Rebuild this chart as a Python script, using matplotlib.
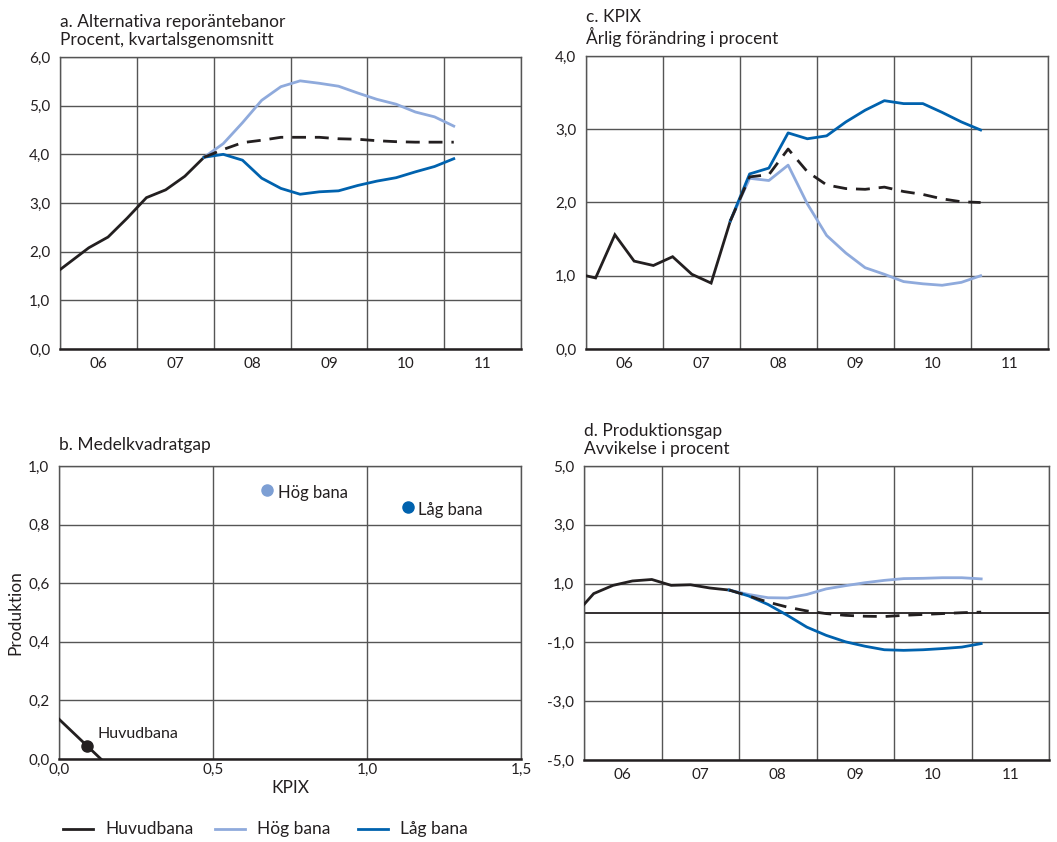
import matplotlib
matplotlib.use("Agg")
import matplotlib.pyplot as plt
from matplotlib.lines import Line2D
import numpy as np

plt.rcParams['font.family'] = ['Lato', 'DejaVu Sans']
TXT = '#231F20'
plt.rcParams['text.color'] = TXT
plt.rcParams['axes.labelcolor'] = TXT
plt.rcParams['xtick.color'] = TXT
plt.rcParams['ytick.color'] = TXT

# ---------------- data ----------------
hist_quarters = ["2005Q4", "2006Q1", "2006Q2", "2006Q3", "2006Q4",
                 "2007Q1", "2007Q2", "2007Q3", "2007Q4"]
fc_quarters = ["2007Q4", "2008Q1", "2008Q2", "2008Q3", "2008Q4",
               "2009Q1", "2009Q2", "2009Q3", "2009Q4",
               "2010Q1", "2010Q2", "2010Q3", "2010Q4", "2011Q1"]

# a. Reporänta
a_hist = [1.48, 1.78, 2.08, 2.30, 2.69, 3.11, 3.27, 3.55, 3.94]
a_huvud = [3.94, 4.10, 4.24, 4.29, 4.35, 4.35, 4.35, 4.32, 4.31, 4.28, 4.26, 4.25, 4.25, 4.25]
a_hog = [3.94, 4.22, 4.65, 5.11, 5.39, 5.51, 5.46, 5.40, 5.26, 5.13, 5.03, 4.87, 4.77, 4.58]
a_lag = [3.94, 4.00, 3.88, 3.51, 3.30, 3.18, 3.23, 3.25, 3.36, 3.45, 3.52, 3.64, 3.75, 3.91]

# c. KPIX
c_hist = [1.03, 0.97, 1.56, 1.20, 1.14, 1.26, 1.02, 0.90, 1.75]
c_huvud = [1.75, 2.35, 2.38, 2.73, 2.42, 2.24, 2.19, 2.18, 2.21, 2.15, 2.11, 2.05, 2.01, 2.00]
c_hog = [1.75, 2.33, 2.30, 2.51, 1.98, 1.55, 1.31, 1.11, 1.02, 0.92, 0.89, 0.87, 0.91, 1.00]
c_lag = [1.75, 2.39, 2.47, 2.95, 2.87, 2.91, 3.10, 3.26, 3.39, 3.35, 3.35, 3.23, 3.10, 2.99]

# d. Produktionsgap
d_hist = [-0.08, 0.66, 0.94, 1.09, 1.14, 0.94, 0.96, 0.85, 0.78]
d_huvud = [0.78, 0.58, 0.37, 0.20, 0.07, -0.02, -0.08, -0.11, -0.12, -0.08, -0.05, -0.02, 0.01, 0.03]
d_hog = [0.78, 0.63, 0.52, 0.51, 0.63, 0.82, 0.93, 1.03, 1.11, 1.17, 1.18, 1.20, 1.20, 1.16]
d_lag = [0.78, 0.58, 0.29, -0.08, -0.48, -0.76, -0.98, -1.13, -1.25, -1.27, -1.25, -1.21, -1.16, -1.04]

# b. Medelkvadratgap (KPIX, Produktion)
b_huvud = (0.092, 0.044)
b_hog = (0.676, 0.917)
b_lag = (1.134, 0.859)

years = [2006, 2007, 2008, 2009, 2010, 2011]
year_labels = ["06", "07", "08", "09", "10", "11"]
a_yticks = [0, 1, 2, 3, 4, 5, 6]
a_ylabels = ["0,0", "1,0", "2,0", "3,0", "4,0", "5,0", "6,0"]
c_yticks = [0, 1, 2, 3, 4]
c_ylabels = ["0,0", "1,0", "2,0", "3,0", "4,0"]
d_yticks = [-5, -3, -1, 1, 3, 5]
d_ylabels = ["-5,0", "-3,0", "-1,0", "1,0", "3,0", "5,0"]
b_xticks = [0, 0.5, 1.0, 1.5]
b_xlabels = ["0,0", "0,5", "1,0", "1,5"]
b_yticks = [0, 0.2, 0.4, 0.6, 0.8, 1.0]
b_ylabels = ["0,0", "0,2", "0,4", "0,6", "0,8", "1,0"]

series_names = ["Huvudbana", "Hög bana", "Låg bana"]

BLACK = '#231F20'
LIGHT = '#8FAADC'
DARK = '#0062AE'
GRID = '#555555'
LW = 2.0


def qx(q):
    y, n = q.split("Q")
    return int(y) + (int(n) - 0.5) / 4.0


xh = np.array([qx(q) for q in hist_quarters])
xf = np.array([qx(q) for q in fc_quarters])

W, H = 1057, 842
fig = plt.figure(figsize=(W / 100, H / 100), dpi=100)


def box(l, t, r, b):
    return [l / W, 1 - b / H, (r - l) / W, (b - t) / H]


def style(ax):
    ax.tick_params(which='both', length=0, labelsize=11)
    ax.tick_params(axis='y', pad=7)
    ax.tick_params(axis='x', which='both', pad=6)
    for s in ['left', 'top', 'right']:
        ax.spines[s].set_color(GRID)
        ax.spines[s].set_linewidth(1.0)
    ax.spines['bottom'].set_color(BLACK)
    ax.spines['bottom'].set_linewidth(1.8)
    ax.grid(True, which='major', color=GRID, linewidth=1.0)
    ax.set_axisbelow(True)


def time_panel(ax, xlim, yticks, ylabels, hist, huvud, hog, lag, title):
    ax.set_xlim(*xlim)
    ax.set_ylim(yticks[0], yticks[-1])
    ax.set_xticks(years + [years[-1] + 1])
    ax.set_xticklabels([])
    ax.set_xticks([y + 0.5 for y in years], minor=True)
    ax.set_xticklabels(year_labels, minor=True)
    ax.set_yticks(yticks)
    ax.set_yticklabels(ylabels)
    style(ax)
    ax.plot(xh, hist, color=BLACK, lw=LW, solid_joinstyle='miter', zorder=3)
    ax.plot(xf, hog, color=LIGHT, lw=LW, zorder=3)
    ax.plot(xf, lag, color=DARK, lw=LW, zorder=4)
    ax.plot(xf, huvud, color=BLACK, lw=LW, dashes=(5, 3.2), zorder=5)
    ax.text(0, 1.03, title, transform=ax.transAxes, ha='left', va='bottom',
            fontsize=12.5, linespacing=1.15)


ax_a = fig.add_axes(box(60, 57, 521, 349))
time_panel(ax_a, (2006, 2012), a_yticks, a_ylabels, a_hist, a_huvud, a_hog, a_lag,
           "a. Alternativa reporäntebanor\nProcent, kvartalsgenomsnitt")

ax_c = fig.add_axes(box(586, 56, 1048, 349))
time_panel(ax_c, (2006, 2012), c_yticks, c_ylabels, c_hist, c_huvud, c_hog, c_lag,
           "c. KPIX\nÅrlig förändring i procent")

ax_d = fig.add_axes(box(584, 466, 1049, 760))
time_panel(ax_d, (2006, 2011.91), d_yticks, d_ylabels, d_hist, d_huvud, d_hog, d_lag,
           "d. Produktionsgap\nAvvikelse i procent")
ax_d.axhline(0, color=BLACK, lw=1.3, zorder=2)

# panel b
ax_b = fig.add_axes(box(59, 466, 521, 759))
ax_b.set_xlim(0, 1.5)
ax_b.set_ylim(0, 1.0)
ax_b.set_xticks(b_xticks)
ax_b.set_xticklabels(b_xlabels)
ax_b.set_yticks(b_yticks)
ax_b.set_yticklabels(b_ylabels)
style(ax_b)
ax_b.tick_params(axis='x', pad=3)
ax_b.set_xlabel("KPIX", fontsize=12.5, labelpad=2)
ax_b.set_ylabel("Produktion", fontsize=12.5, labelpad=3)
s = b_huvud[0] + b_huvud[1]
ax_b.plot([0, s], [s, 0], color=BLACK, lw=LW, zorder=3, clip_on=True)
ax_b.plot([b_huvud[0]], [b_huvud[1]], 'o', color=BLACK, ms=8, zorder=4)
ax_b.plot([b_hog[0]], [b_hog[1]], 'o', color='#7D9FD4', ms=8, zorder=4)
ax_b.plot([b_lag[0]], [b_lag[1]], 'o', color=DARK, ms=8, zorder=4)
ax_b.annotate(series_names[0], b_huvud, xytext=(7, 9), textcoords='offset points',
              ha='left', va='center', fontsize=11.5)
ax_b.annotate(series_names[1], b_hog, xytext=(8, -2), textcoords='offset points',
              ha='left', va='center', fontsize=12)
ax_b.annotate(series_names[2], b_lag, xytext=(7, -2), textcoords='offset points',
              ha='left', va='center', fontsize=12)
ax_b.text(0, 1.045, "b. Medelkvadratgap", transform=ax_b.transAxes, ha='left',
          va='bottom', fontsize=12.5)

# legend (manual placement of entries)
leg_y = 1 - 829 / H
leg_x0 = [63, 215, 358]
for name, col, x0 in zip(series_names, (BLACK, LIGHT, DARK), leg_x0):
    fig.add_artist(Line2D([x0 / W, (x0 + 30) / W], [leg_y, leg_y], color=col, lw=LW,
                          transform=fig.transFigure))
    fig.text((x0 + 42) / W, leg_y, name, ha='left', va='center', fontsize=12.5)

fig.savefig("out.png", dpi=100)
